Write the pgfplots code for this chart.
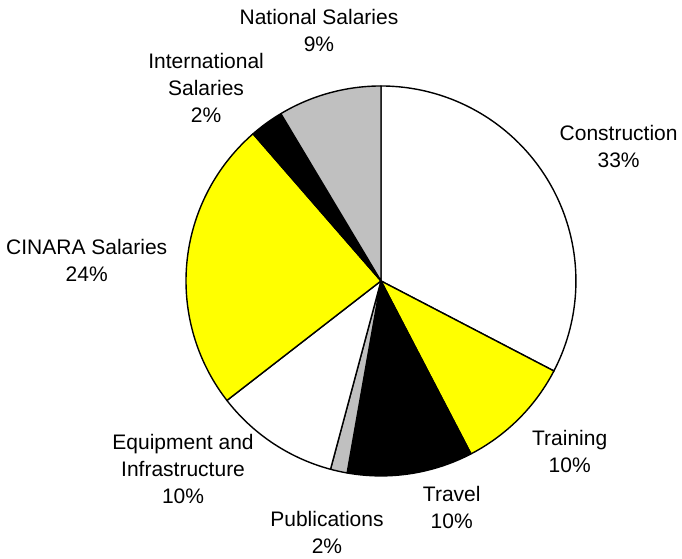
\documentclass[border=0pt]{standalone}
\usepackage{fontspec}
\setmainfont{Liberation Sans}
\usepackage{pgfplots}
\pgfplotsset{compat=1.18}
\definecolor{pgray}{RGB}{192,192,192}
\definecolor{pyellow}{RGB}{255,255,0}
\tikzset{lbl/.style={font={\fontsize{21bp}{27bp}\selectfont}, align=center, anchor=center, inner sep=0pt}}
\begin{document}
\begin{tikzpicture}
\begin{axis}[
  name=pie,
  x=195bp, y=195bp,
  xmin=-1.954, xmax=1.544, ymin=-1.426, ymax=1.441,
  hide axis, clip=false,
  scale only axis,
  every axis plot/.append style={draw=black, line width=1.4pt, line join=round, samples=90, variable=\t},
]
% slices: start and end angle (deg, counter-clockwise), from percentages clockwise from top
% Construction 32.6 %
\addplot[fill=white, domain=-27.5:90] ({cos(\t)},{sin(\t)}) -- (axis cs:0,0) -- cycle;
% Training 9.7 %
\addplot[fill=pyellow, domain=-62.5:-27.5] ({cos(\t)},{sin(\t)}) -- (axis cs:0,0) -- cycle;
% Travel 10.4 %
\addplot[fill=black, domain=-100:-62.5] ({cos(\t)},{sin(\t)}) -- (axis cs:0,0) -- cycle;
% Publications 1.4 %
\addplot[fill=pgray, domain=-105:-100] ({cos(\t)},{sin(\t)}) -- (axis cs:0,0) -- cycle;
% Equipment and Infrastructure 10.3 %
\addplot[fill=white, domain=-142.2:-105] ({cos(\t)},{sin(\t)}) -- (axis cs:0,0) -- cycle;
% CINARA Salaries 24.1 %
\addplot[fill=pyellow, domain=131:217.8] ({cos(\t)},{sin(\t)}) -- (axis cs:0,0) -- cycle;
% International Salaries 2.8 %
\addplot[fill=black, domain=120.9:131] ({cos(\t)},{sin(\t)}) -- (axis cs:0,0) -- cycle;
% National Salaries 8.6 %
\addplot[fill=pgray, domain=90:120.9] ({cos(\t)},{sin(\t)}) -- (axis cs:0,0) -- cycle;

\node[lbl] at (axis cs:-0.318,1.285) {National Salaries\\9\%};
\node[lbl] at (axis cs:-0.897,0.990) {International\\Salaries\\2\%};
\node[lbl] at (axis cs:1.219,0.689) {Construction\\33\%};
\node[lbl] at (axis cs:-1.509,0.105) {CINARA Salaries\\24\%};
\node[lbl] at (axis cs:0.968,-0.873) {Training\\10\%};
\node[lbl] at (axis cs:0.363,-1.162) {Travel\\10\%};
\node[lbl] at (axis cs:-1.015,-0.963) {Equipment and\\Infrastructure\\10\%};
\node[lbl] at (axis cs:-0.277,-1.292) {Publications\\2\%};
\end{axis}
\pgfresetboundingbox
\path (pie.south west) rectangle (pie.north east);
\end{tikzpicture}
\end{document}
